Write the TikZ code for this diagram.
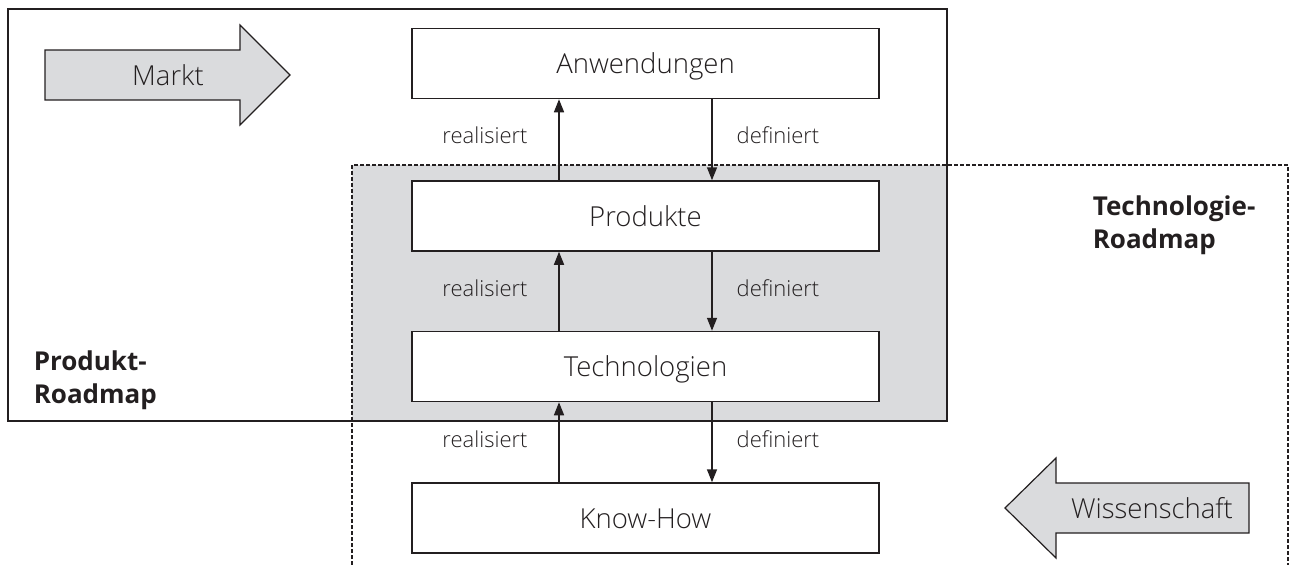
\documentclass[tikz,border=0pt]{standalone}
\usepackage{fontspec}
\setmainfont{Open Sans}
\newfontfamily\thinsans{Open Sans Light}
\usetikzlibrary{arrows.meta,calc}
\definecolor{panelgray}{RGB}{218,219,221}
\definecolor{inkline}{RGB}{35,31,32}
\begin{document}
\begin{tikzpicture}[x=1pt,y=-1pt,
  line width=1.5pt,
  stage/.style={draw=inkline, fill=white, minimum width=467pt, minimum height=70pt,
    inner sep=0pt, text height=20pt, text depth=0pt,
    font=\thinsans\fontsize{27.5}{32}\selectfont, text=inkline},
  flowlabel/.style={font=\thinsans\fontsize{22}{26}\selectfont, text=inkline, inner sep=0pt},
  roadlabel/.style={font=\fontsize{26}{33}\selectfont\bfseries, align=left,
    anchor=north west, inner sep=0pt, text=inkline},
  link/.style={draw=inkline, line width=1.5pt, -{Triangle[length=13pt,width=10pt]}},
  bigarrow/.style={draw=inkline, line width=1.2pt, fill=panelgray},
  roadframe/.style={draw=inkline, line width=1.5pt},
  techframe/.style={draw=inkline, line width=1.3pt, dash pattern=on 4pt off 2pt},
]
\useasboundingbox (0,0) rectangle (1291,565);

% shared area of both roadmaps
\fill[panelgray] (352,165) rectangle (947,421);
% product roadmap frame
\draw[roadframe] (8,9) rectangle (947,421);
% technology roadmap frame (open at the bottom)
\draw[techframe] (352,565) -- (352,165) -- (1288,165) -- (1288,565);

% market and science arrows
\draw[bigarrow] (45,50) -- (240,50) -- (240,25) -- (290,75) -- (240,125) -- (240,100) -- (45,100) -- cycle;
\node[flowlabel, font=\thinsans\fontsize{27.5}{32}\selectfont] (markt) at (168,75) {Markt};
\draw[bigarrow] (1249,483) -- (1056,483) -- (1056,458) -- (1005,508) -- (1056,558) -- (1056,533) -- (1249,533) -- cycle;
\node[flowlabel, font=\thinsans\fontsize{27.5}{32}\selectfont] (wiss) at (1152,508) {Wissenschaft};

% stages
\node[stage] (anw)  at (645.5,63.5)  {Anwendungen};
\node[stage] (prod) at (645.5,216)   {Produkte};
\node[stage] (tech) at (645.5,366.5) {Technologien};
\node[stage] (kh)   at (645.5,518)   {Know-How};

% realisiert (upwards) and definiert (downwards)
\draw[link] ([xshift=-86.5pt]prod.north) -- ([xshift=-86.5pt]anw.south);
\draw[link] ([xshift=66.5pt]anw.south) -- ([xshift=66.5pt]prod.north);
\draw[link] ([xshift=-86.5pt]tech.north) -- ([xshift=-86.5pt]prod.south);
\draw[link] ([xshift=66.5pt]prod.south) -- ([xshift=66.5pt]tech.north);
\draw[link] ([xshift=-86.5pt]kh.north) -- ([xshift=-86.5pt]tech.south);
\draw[link] ([xshift=66.5pt]tech.south) -- ([xshift=66.5pt]kh.north);

\node[flowlabel] (r1) at (485,135) {realisiert};
\node[flowlabel] (d1) at (778,135) {definiert};
\node[flowlabel] (r2) at (485,288) {realisiert};
\node[flowlabel] (d2) at (778,288) {definiert};
\node[flowlabel] (r3) at (485,439) {realisiert};
\node[flowlabel] (d3) at (778,439) {definiert};

% roadmap titles
\node[roadlabel] (prl) at (33,350) {Produkt-\\Roadmap};
\node[roadlabel] (trl) at (1092,195) {Technologie-\\Roadmap};
\end{tikzpicture}
\end{document}
